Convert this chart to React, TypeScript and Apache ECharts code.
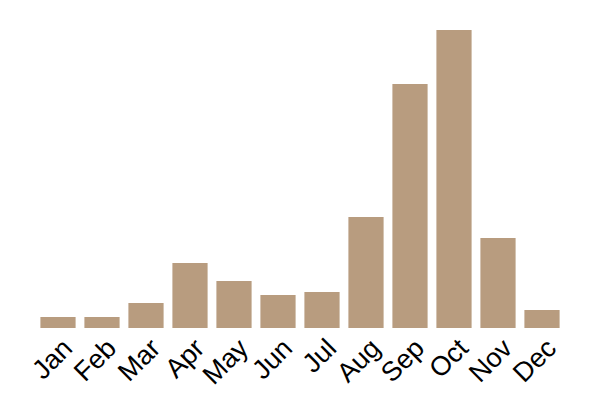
import { useRef, useEffect } from "react";
import * as echarts from "echarts";

const months = ["Jan", "Feb", "Mar", "Apr", "May", "Jun", "Jul", "Aug", "Sep", "Oct", "Nov", "Dec"];
const values = [11, 11, 25, 65, 47, 33, 36, 111, 244, 298, 90, 18];

const App = () => {
  const chartRef = useRef<HTMLDivElement>(null);

  useEffect(() => {
    const chart = echarts.init(chartRef.current, null, { renderer: "svg" });
    chart.setOption({
      animation: false,
      grid: { left: 36, right: 36, top: 30, bottom: 72 },
      xAxis: {
        type: "category",
        data: months,
        axisLine: { show: false },
        axisTick: { show: false },
        axisLabel: {
          rotate: 45,
          interval: 0,
          fontSize: 27,
          color: "#000",
          fontFamily: "Liberation Sans, Arial, sans-serif",
          margin: 6,
          align: "right",
          verticalAlign: "top",
        },
      },
      yAxis: {
        type: "value",
        min: 0,
        max: "dataMax",
        show: false,
        splitLine: { show: false },
      },
      series: [
        {
          type: "bar",
          data: values,
          barCategoryGap: "20%",
          itemStyle: { color: "#b89c7f" },
        },
      ],
    });
    return () => {
      chart.dispose();
    };
  }, []);

  return <div ref={chartRef} style={{ width: "600px", height: "400px", margin: "-8px" }}></div>;
};

export default App;
